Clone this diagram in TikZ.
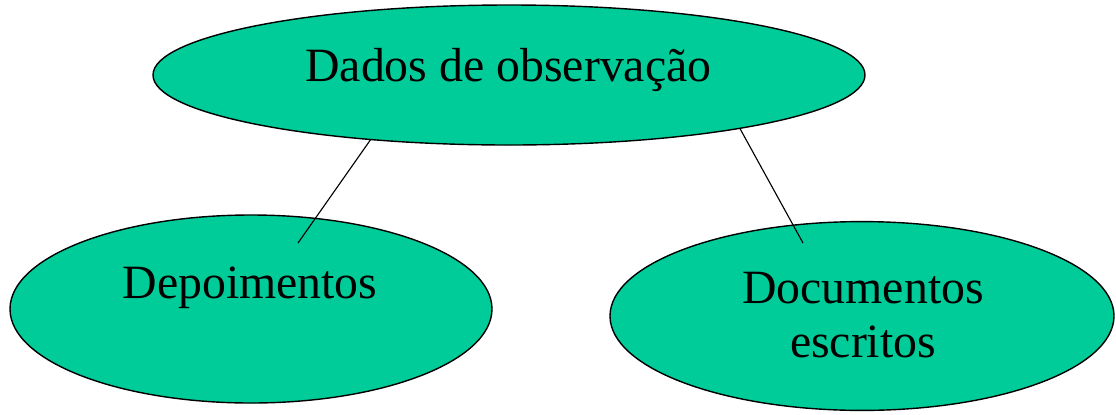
\documentclass[tikz,border=0pt]{standalone}
\usepackage{fontspec}
\setmainfont{Liberation Serif}
\usepackage{xcolor}
\usetikzlibrary{shapes.geometric,positioning}
\definecolor{bubblegreen}{RGB}{0,204,153}

\begin{document}
\begin{tikzpicture}[
  bubble/.style={draw, ellipse, fill=bubblegreen, line width=1pt, outer sep=0pt, inner sep=0pt},
  txt/.style={font=\fontsize{34}{38.3}\selectfont, align=center, inner sep=0pt}
]
\useasboundingbox (0,0) rectangle (27.9,-10.35);
\node[bubble, minimum width=17.8cm, minimum height=3.5cm] (dados) at (12.725,-1.875) {};
\node[bubble, minimum width=12.05cm, minimum height=4.7cm] (depo) at (6.275,-7.725) {};
\node[bubble, minimum width=12.6cm, minimum height=4.72cm] (docs) at (21.55,-7.9) {};
\node[txt, anchor=base] (dadostxt) at (12.71,-2.025) {Dados de observação};
\node[txt, anchor=base] (depotxt) at (6.25,-7.45) {Depoimentos};
\node[txt, anchor=base] (docstxt) at (21.575,-8.925) {Documentos\\escritos};
\coordinate (depoend) at (7.45,-6.075);
\coordinate (docsend) at (20.075,-6.075);
\draw[line width=0.8pt] (dados.205) -- (depoend);
\draw[line width=0.8pt] (dados.347) -- (docsend);
\end{tikzpicture}
\end{document}
